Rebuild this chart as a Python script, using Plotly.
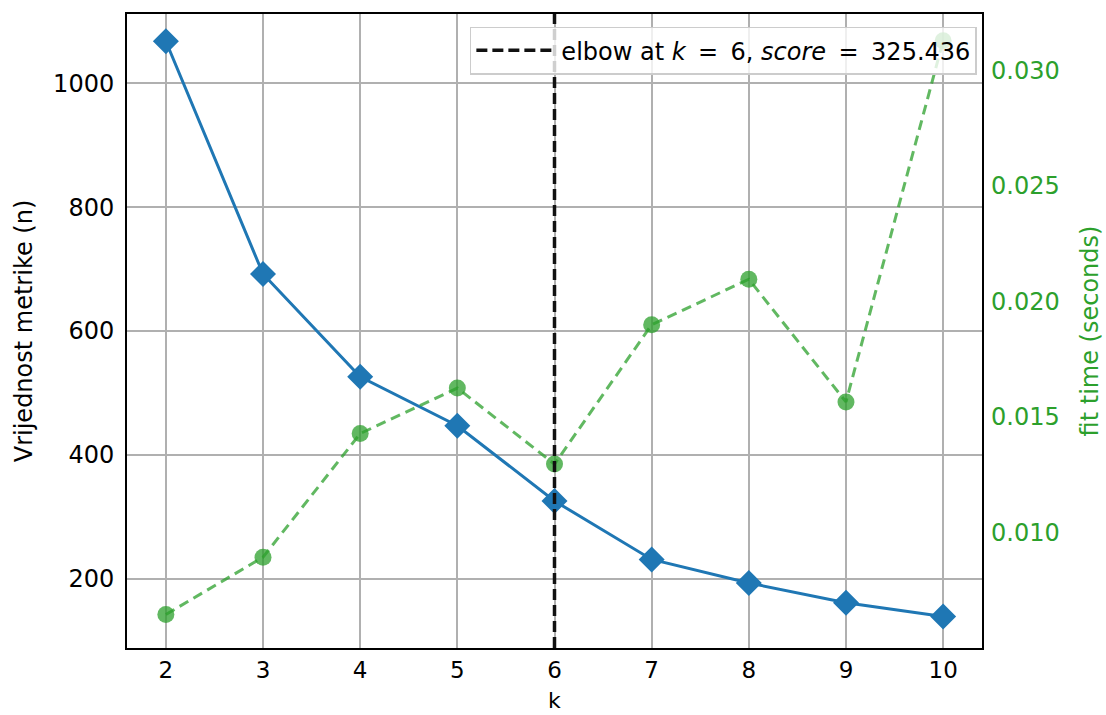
import plotly.graph_objects as go

k_values = [2, 3, 4, 5, 6, 7, 8, 9, 10]
scores = [1068, 692, 526, 447, 325.436, 231, 193, 161, 139]
fit_times = [0.00645, 0.00893, 0.01428, 0.01625, 0.01296, 0.01899, 0.02096, 0.01565, 0.03128]
elbow_k = 6
elbow_score = 325.436
left_ticks = [200, 400, 600, 800, 1000]
right_ticks = [0.010, 0.015, 0.020, 0.025, 0.030]

font = "DejaVu Sans"
fs = 24
fig = go.Figure()

fig.add_trace(go.Scatter(
    x=k_values, y=scores, mode="lines+markers",
    line=dict(color="#1f77b4", width=3),
    marker=dict(symbol="diamond", size=20, color="#1f77b4"),
    showlegend=False, yaxis="y"))

fig.add_trace(go.Scatter(
    x=k_values, y=fit_times, mode="lines+markers",
    line=dict(color="rgba(44,160,44,0.75)", width=3, dash="10px,6px"),
    marker=dict(symbol="circle", size=17, color="rgba(44,160,44,0.75)"),
    showlegend=False, yaxis="y2"))

ts = "\u2009"
fig.add_trace(go.Scatter(
    x=[elbow_k, elbow_k], y=[0, 1], mode="lines",
    line=dict(color="#111111", width=3.5, dash="11px,5px"),
    name=f"elbow at <i>k</i> {ts}={ts} {elbow_k}, <i>score</i> {ts}={ts} {elbow_score}",
    yaxis="y3", showlegend=True))

bottom = 67
plot_h = 715 - 14 - bottom
fig.add_annotation(text="k", xref="paper", yref="paper", x=0.5, y=-(714 - (715 - bottom)) / plot_h,
                   xanchor="center", yanchor="bottom", showarrow=False,
                   borderpad=0,
                   font=dict(size=22, family=font, color="black"))

fig.update_layout(
    width=1106, height=715,
    margin=dict(l=127, r=124, t=14, b=bottom),
    paper_bgcolor="white", plot_bgcolor="white",
    font=dict(family=font, size=fs, color="black"),
    xaxis=dict(range=[1.6, 10.4], tickvals=k_values, showgrid=True,
               gridcolor="#b0b0b0", gridwidth=1.5, showline=True, linecolor="black",
               linewidth=2, mirror=True, ticks="", zeroline=False,
               tickfont=dict(size=23), ticklabelstandoff=0, automargin=False),
    yaxis=dict(range=[88, 1112], tickvals=left_ticks, showgrid=True,
               gridcolor="#b0b0b0", gridwidth=1.5, showline=True, linecolor="black",
               linewidth=2, mirror=True, ticks="", zeroline=False,
               tickfont=dict(size=fs), ticklabelstandoff=6, automargin=False,
               title=dict(text="Vrijednost metrike (n)", font=dict(size=fs), standoff=14)),
    yaxis2=dict(range=[0.0050, 0.03244], tickvals=right_ticks, tickformat=".3f",
                overlaying="y", side="right", showgrid=False, ticks="",
                zeroline=False, showline=False, ticklabelstandoff=8, automargin=False,
                tickfont=dict(color="#2ca02c", size=fs),
                title=dict(text="fit time (seconds)", font=dict(color="#2ca02c", size=fs), standoff=22)),
    yaxis3=dict(range=[0, 1], overlaying="y", visible=False, fixedrange=True),
    legend=dict(x=0.994, y=0.98, xanchor="right", yanchor="top",
                bgcolor="rgba(255,255,255,0.8)", bordercolor="#cccccc", borderwidth=1.5,
                font=dict(size=fs), itemwidth=80),
)

fig.write_html("out.html")
